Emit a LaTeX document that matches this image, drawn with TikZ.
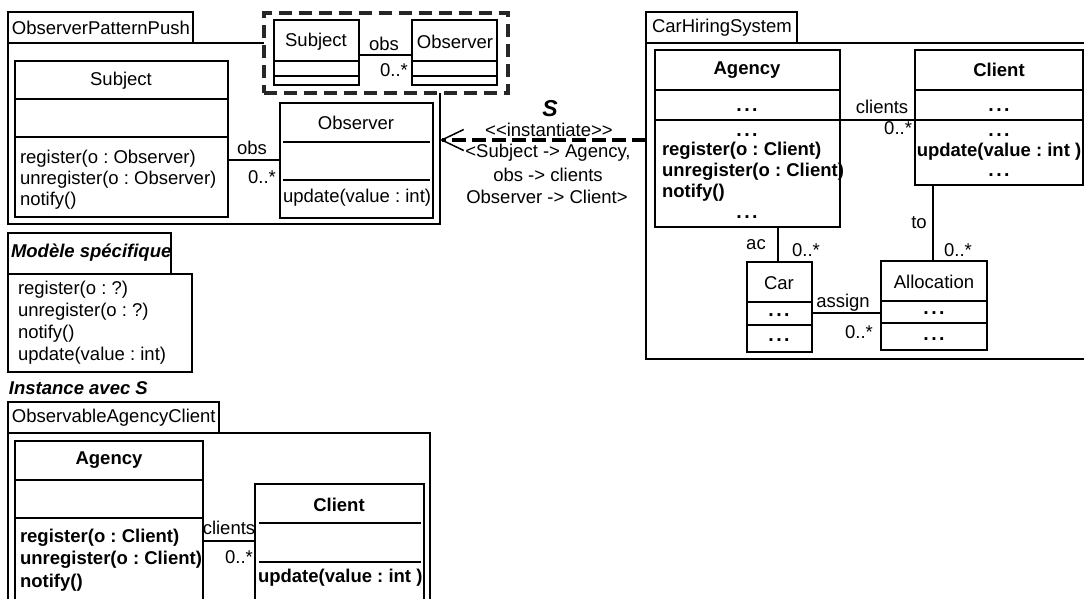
\documentclass[tikz,border=0pt]{standalone}
\usepackage{fontspec}
\setmainfont{Liberation Sans}
\usetikzlibrary{fit,arrows.meta}
\frenchspacing
\newcommand\ddd{.\kern2.4pt.\kern2.4pt.}
\begin{document}
\frenchspacing
\begin{tikzpicture}[x=1pt,y=-1pt,
  every node/.style={font=\fontsize{18.5}{20}\selectfont, inner sep=0pt, outer sep=0pt},
  box/.style={draw, line width=1.5pt, inner sep=0pt, fill=white},
  pkg/.style={draw, line width=1.5pt, inner sep=0pt},
  ln/.style={line width=1.5pt},
  bf/.style={font=\fontsize{18.5}{20}\selectfont\bfseries},
  bfi/.style={font=\fontsize{18.5}{20}\selectfont\bfseries\itshape},
  dots/.style={font=\fontsize{19.5}{20}\selectfont\bfseries, yshift=-2pt},
  tmplbox/.style={draw=black!85, line width=3.2pt, dash pattern=on 13pt off 7pt, fill=white, inner sep=0pt},
]
\useasboundingbox (0,0) rectangle (1084,598);
\clip (0,0) rectangle (1084,598);

% ---------------- ObserverPatternPush ----------------
\node[box, fit={(8,12)(193,43)}] (p1tab) {};
\node[anchor=west] (p1name) at (12,28) {ObserverPatternPush};
\node[pkg, fit={(8,43)(440,224)}] (p1) {};

\node[box, fit={(15,61)(228,217)}] (subj) {};
\draw[ln] (15,99) -- (228,99);
\draw[ln] (15,137) -- (228,137);
\node (subjN) at (121,81) {Subject};
\node[anchor=west] (subjO1) at (20,159) {register(o : Observer)};
\node[anchor=west] (subjO2) at (20,180) {unregister(o : Observer)};
\node[anchor=west] (subjO3) at (20,201) {notify()};

\node[box, fit={(280,103)(433,218)}] (obsv) {};
\draw[ln] (283,142) -- (430,142);
\draw[ln] (283,180) -- (430,180);
\node (obsvN) at (356,123) {Observer};
\node[anchor=west] (obsvO1) at (283,198) {update(value : int)};

\coordinate (a1) at (0,160);
\draw[ln] (subj.east |- a1) -- (obsv.west |- a1);
\node (a1r) at (252,148) {obs};
\node (a1m) at (262,177) {0..*};

% template (dashed)
\node[tmplbox, fit={(264,13)(508,93)}] (tmpl) {};
\node[box, fit={(274,20)(359,85)}] (tsubj) {};
\draw[ln] (274,61) -- (359,61);
\draw[ln] (274,76) -- (359,76);
\node (tsubjN) at (316,42) {Subject};
\node[box, fit={(412,20)(497,85)}] (tobs) {};
\draw[ln] (412,61) -- (497,61);
\draw[ln] (412,76) -- (497,76);
\node (tobsN) at (455,42) {Observer};
\coordinate (a2) at (0,55);
\draw[ln] (tsubj.east |- a2) -- (tobs.west |- a2);
\node (a2r) at (384,44) {obs};
\node (a2m) at (394,70) {0..*};

% ---------------- CarHiringSystem ----------------
\node[box, fit={(646,12)(797,43)}] (p2tab) {};
\node[anchor=west] (p2name) at (652,28) {CarHiringSystem};
\node[pkg, fit={(646,43)(1092,359)}] (p2) {};

\node[box, fit={(655,50)(840,227)}] (ag) {};
\draw[ln] (655,90) -- (840,90);
\draw[ln] (655,120) -- (840,120);
\node[bf] (agN) at (747,70) {Agency};
\node[dots] (agA) at (747,108) {\ddd};
\node[dots] (agO0) at (747,133) {\ddd};
\node[bf, anchor=west] (agO1) at (662,151) {register(o : Client)};
\node[bf, anchor=west] (agO2) at (662,172) {unregister(o : Client)};
\node[bf, anchor=west] (agO3) at (662,193) {notify()};
\node[dots] (agO4) at (747,215) {\ddd};

\node[box, fit={(915,50)(1083,185)}] (cl) {};
\draw[ln] (915,90) -- (1083,90);
\draw[ln] (915,120) -- (1083,120);
\node[bf] (clN) at (999,70) {Client};
\node[dots] (clA) at (999,108) {\ddd};
\node[dots] (clO0) at (999,133) {\ddd};
\node[bf] (clO1) at (999,152) {update(value : int )};
\node[dots] (clO2) at (999,173) {\ddd};

\coordinate (a3) at (0,120);
\draw[ln] (ag.east |- a3) -- (cl.west |- a3);
\node (a3r) at (882,107) {clients};
\node[anchor=east] (a3m) at (912,128) {0..*};

\node[box, fit={(747,262)(812,352)}] (car) {};
\draw[ln] (747,302) -- (812,302);
\draw[ln] (747,325) -- (812,325);
\node (carN) at (779,283) {Car};
\node[dots] (carA) at (779,313) {\ddd};
\node[dots] (carO) at (779,338) {\ddd};

\node[box, fit={(881,261)(987,350)}] (al) {};
\draw[ln] (881,301) -- (987,301);
\draw[ln] (881,323) -- (987,323);
\node (alN) at (934,282) {Allocation};
\node[dots] (alA) at (934,311) {\ddd};
\node[dots] (alO) at (934,337) {\ddd};

\coordinate (a4) at (778,0);
\draw[ln] (ag.south -| a4) -- (car.north -| a4);
\node (a4r) at (756,245) {ac};
\node (a4m) at (806,250) {0..*};

\coordinate (a5) at (933,0);
\draw[ln] (cl.south -| a5) -- (al.north -| a5);
\node (a5r) at (919,223) {to};
\node (a5m) at (958,250) {0..*};

\coordinate (a6) at (0,313);
\draw[ln] (car.east |- a6) -- (al.west |- a6);
\node (a6r) at (843,303) {assign};
\node (a6m) at (859,332) {0..*};

% ---------------- instantiate arrow ----------------
\coordinate (inst) at (0,140);
\draw[line width=3.2pt, dash pattern=on 14pt off 6pt,
  -{Straight Barb[length=22pt,width=21pt,line width=1.5pt]}]
  (p2.west |- inst) -- (p1.east |- inst);
\node[font=\fontsize{23}{24}\selectfont\bfseries\itshape] (instS) at (550,109) {S};
\node (instL1) at (549,130) {<{}<instantiate>{}>};
\node (instL2) at (548,153) {<Subject -> Agency,};
\node (instL3) at (548,175) {obs -> clients};
\node (instL4) at (547,197) {Observer -> Client>};

% ---------------- Modele specifique ----------------
\node[box, fit={(8,233)(171,274)}] (mtab) {};
\node[bfi, anchor=west] (mname) at (11,253) {Modèle spécifique};
\node[box, fit={(8,274)(192,372)}] (mbox) {};
\node[anchor=west] (mO1) at (18,290) {register(o : ?)};
\node[anchor=west] (mO2) at (18,312) {unregister(o : ?)};
\node[anchor=west] (mO3) at (18,334) {notify()};
\node[anchor=west] (mO4) at (18,356) {update(value : int)};

\node[bfi, anchor=west] (inst2) at (9,388) {Instance avec S};

% ---------------- ObservableAgencyClient ----------------
\node[box, fit={(8,402)(219,433)}] (p3tab) {};
\node[anchor=west] (p3name) at (12,418) {ObservableAgencyClient};
\node[pkg, fit={(8,433)(430,612)}] (p3) {};

\node[box, fit={(15,441)(203,612)}] (bag) {};
\draw[ln] (15,480) -- (203,480);
\draw[ln] (15,518) -- (203,518);
\node[bf] (bagN) at (109,460) {Agency};
\node[bf, anchor=west] (bagO1) at (20,538) {register(o : Client)};
\node[bf, anchor=west] (bagO2) at (20,560) {unregister(o : Client)};
\node[bf, anchor=west] (bagO3) at (20,583) {notify()};

\node[box, fit={(255,484)(424,612)}] (bcl) {};
\draw[ln] (259,523) -- (421,523);
\draw[ln] (259,562) -- (421,562);
\node[bf] (bclN) at (339,505) {Client};
\node[bf, anchor=west] (bclO1) at (258,578) {update(value : int )};

\coordinate (a7) at (0,541);
\draw[ln] (bag.east |- a7) -- (bcl.west |- a7);
\node (a7r) at (229,528) {clients};
\node (a7m) at (239,557) {0..*};
\end{tikzpicture}
\end{document}
